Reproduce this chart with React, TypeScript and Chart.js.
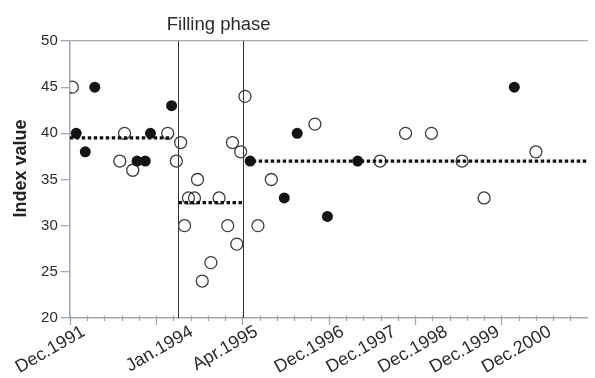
import React, { useEffect, useRef } from 'react';
import { Chart, registerables } from 'chart.js';

Chart.register(...registerables);

const FONT = '"Liberation Sans", Arial, Helvetica, sans-serif';

// x = months since Dec.1991
const filledMonths = [1.5, 3.6, 5.8, 15.6, 17.5, 18.7, 23.6, 41.8, 49.7, 52.7, 59.7, 66.7, 103.0];
const filledValues = [40, 38, 45, 37, 37, 40, 43, 37, 33, 40, 31, 37, 45];

const openMonths = [0.6, 11.6, 12.7, 14.6, 22.7, 24.7, 25.7, 26.6, 27.5, 28.9, 29.6, 30.7, 32.7, 34.6, 36.6, 37.7, 38.7, 39.6, 40.6, 43.6, 46.7, 56.8, 71.9, 77.8, 83.8, 90.9, 96.0, 108.0];
const openValues = [45, 37, 40, 36, 40, 37, 39, 30, 33, 33, 35, 24, 26, 33, 30, 39, 28, 38, 44, 30, 35, 41, 37, 40, 40, 37, 33, 38];

// phase means (dotted lines)
const phaseStart = [0, 25.2, 41];
const phaseEnd = [23.7, 40, 120];
const phaseMean = [39.5, 32.5, 37];

// vertical phase boundaries
const boundaryMonths = [25, 40.2];
const phaseLabel = 'Filling phase';
const phaseLabelAt = 34.5;

// x tick labels
const tickLabelMonths = [0, 25, 40, 60, 72, 84, 96, 108];
const tickLabelTexts = ['Dec.1991', 'Jan.1994', 'Apr.1995', 'Dec.1996', 'Dec.1997', 'Dec.1998', 'Dec.1999', 'Dec.2000'];
const minorStep = 4;
const majorStep = 20;
const xMax = 120;

const yTitle = 'Index value';

const AXIS_GRAY = '#a2a9b1';
const TEXT = '#2b2b2b';

const overlay = {
  id: 'overlay',
  beforeDatasetsDraw(chart: any) {
    const { ctx, chartArea, scales } = chart;
    const xs = scales.x;
    ctx.save();
    ctx.strokeStyle = '#333';
    ctx.lineWidth = 1;
    boundaryMonths.forEach((m) => {
      const px = Math.round(xs.getPixelForValue(m)) + 0.5;
      ctx.beginPath();
      ctx.moveTo(px, chartArea.top);
      ctx.lineTo(px, chartArea.bottom);
      ctx.stroke();
    });
    ctx.restore();
  },
  afterDraw(chart: any) {
    const { ctx, chartArea, scales } = chart;
    const xs = scales.x;
    const ys = scales.y;
    ctx.save();
    // x tick marks
    ctx.strokeStyle = AXIS_GRAY;
    ctx.lineWidth = 1.3;
    const axisY = chartArea.bottom;
    for (let m = 0; m < xMax; m += minorStep) {
      const px = Math.round(xs.getPixelForValue(m)) + 0.5;
      const major = m % majorStep === 0;
      ctx.beginPath();
      ctx.moveTo(px, axisY - 2.5);
      ctx.lineTo(px, axisY + (major ? 7 : 3));
      ctx.stroke();
    }
    // phase label
    ctx.fillStyle = TEXT;
    ctx.font = `18.5px ${FONT}`;
    ctx.textAlign = 'center';
    ctx.textBaseline = 'middle';
    ctx.fillText(phaseLabel, xs.getPixelForValue(phaseLabelAt), 25);
    // y title
    ctx.translate(21, ys.getPixelForValue(36.2));
    ctx.rotate(-Math.PI / 2);
    ctx.font = `bold 18px ${FONT}`;
    ctx.fillStyle = '#222';
    ctx.fillText(yTitle, 0, 0);
    ctx.restore();
  },
};

export default function App() {
  const ref = useRef<HTMLCanvasElement>(null);

  useEffect(() => {
    const canvas = ref.current!;
    const meanSets = phaseMean.map((v, i) => ({
      type: 'line' as const,
      data: [
        { x: phaseStart[i], y: v },
        { x: phaseEnd[i], y: v },
      ],
      showLine: true,
      borderColor: '#111',
      borderWidth: 3.3,
      borderDash: [3.5, 2.5],
      borderCapStyle: 'butt' as const,
      pointRadius: 0,
      fill: false,
      order: 0,
    }));

    const chart = new Chart(canvas, {
      type: 'scatter',
      data: {
        datasets: [
          ...meanSets,
          {
            data: filledMonths.map((m, i) => ({ x: m, y: filledValues[i] })),
            pointRadius: 5.5,
            backgroundColor: '#141414',
            borderColor: '#141414',
            borderWidth: 0,
            order: 1,
          },
          {
            data: openMonths.map((m, i) => ({ x: m, y: openValues[i] })),
            pointRadius: 6,
            backgroundColor: 'rgba(255,255,255,0)',
            borderColor: '#3c3c3c',
            borderWidth: 1.3,
            order: 1,
          },
        ] as any,
      },
      options: {
        responsive: false,
        animation: false,
        devicePixelRatio: 1,
        layout: { padding: { top: 41, right: 0, left: 0, bottom: 0 } },
        plugins: {
          legend: { display: false },
          tooltip: { enabled: false },
        },
        scales: {
          x: {
            type: 'linear',
            min: 0,
            max: xMax,
            afterBuildTicks: (scale: any) => {
              scale.ticks = tickLabelMonths.map((v) => ({ value: v }));
            },
            afterFit: (scale: any) => {
              scale.height = 60;
            },
            ticks: {
              autoSkip: false,
              minRotation: 30,
              maxRotation: 30,
              padding: 3,
              labelOffset: 14,
              color: TEXT,
              font: { family: FONT, size: 18 },
              callback: (value: any) => {
                const idx = tickLabelMonths.indexOf(Number(value));
                return idx >= 0 ? tickLabelTexts[idx] : '';
              },
            },
            grid: { drawOnChartArea: false, drawTicks: false },
            border: { color: AXIS_GRAY, width: 1.5 },
          },
          y: {
            type: 'linear',
            min: 20,
            max: 50,
            afterFit: (scale: any) => {
              scale.width = 69;
            },
            ticks: {
              stepSize: 5,
              padding: 3,
              color: TEXT,
              font: { family: FONT, size: 15 },
            },
            grid: {
              color: (c: any) => (c.tick && c.tick.value === 50 ? AXIS_GRAY : 'rgba(0,0,0,0)'),
              tickColor: AXIS_GRAY,
              tickLength: 9,
              lineWidth: 1.3,
            },
            border: { color: AXIS_GRAY, width: 1.5 },
          },
        },
      } as any,
      plugins: [overlay],
    });
    return () => chart.destroy();
  }, []);

  return (
    <div style={{ position: 'fixed', left: 0, top: 0, width: 595, height: 378, background: '#fff' }}>
      <canvas ref={ref} width={595} height={378} style={{ width: 595, height: 378, display: 'block' }} />
    </div>
  );
}
